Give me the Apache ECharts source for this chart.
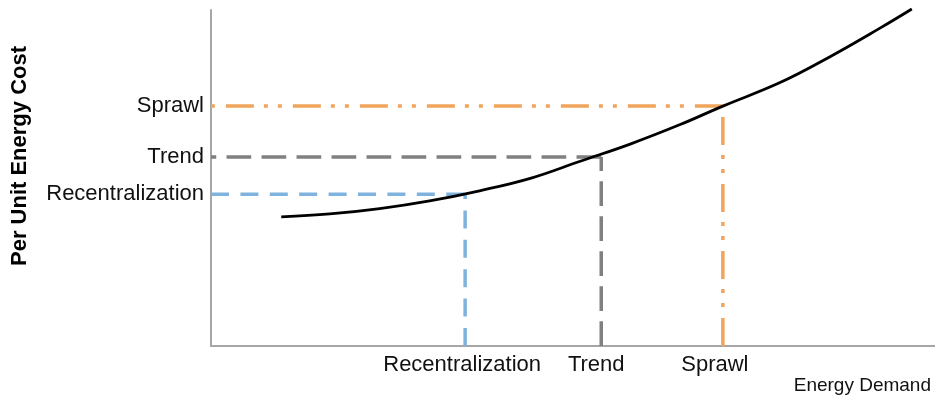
<!DOCTYPE html>
<html>
<head>
<meta charset="utf-8">
<script src="https://cdn.jsdelivr.net/npm/echarts@6/dist/echarts.min.js"></script>
<style>html,body{margin:0;padding:0;background:#fff}#c{width:935px;height:400px}</style>
</head>
<body>
<div id="c"></div>
<script>
const scenarios = ['Recentralization', 'Trend', 'Sprawl'];
const demand = [35.1, 53.9, 70.7];
const cost = [45.2, 56.25, 71.4];
const curveX = [9.7, 16.4, 23.3, 30.2, 37.1, 44.1, 51.0, 57.9, 64.8, 70.7, 78.6, 85.5, 92.4, 96.8];
const curveY = [38.4, 39.3, 40.9, 43.2, 46.2, 49.9, 55.0, 60.1, 65.9, 71.4, 78.4, 86.1, 94.6, 100.3];
const colors = ['#7fb2dc', '#808080', '#f0a45c'];
const dashes = [[18, 11.4], [24.7, 10.3], [28, 11, 4, 10, 4, 10]];

const FONT = '"Liberation Sans", Arial, sans-serif';
const chart = echarts.init(document.getElementById('c'), null, {renderer: 'canvas'});

const series = [];
scenarios.forEach((name, i) => {
  const ls = {color: colors[i], width: 3.5, type: dashes[i]};
  const h = i === 0 ? [[0, cost[i]], [demand[i], cost[i]]] : [[demand[i], cost[i]], [0, cost[i]]];
  series.push({
    type: 'line', name: name + ' h', data: h,
    showSymbol: false, symbol: 'none', lineStyle: ls, z: 2, silent: true
  });
  series.push({
    type: 'line', name: name + ' v', data: [[demand[i], 0], [demand[i], cost[i]]],
    showSymbol: false, symbol: 'none', lineStyle: ls, z: 2, silent: true
  });
});
series.push({
  type: 'line', name: 'curve', data: curveX.map((x, i) => [x, curveY[i]]),
  smooth: 0.4, showSymbol: false, symbol: 'none', clip: false,
  lineStyle: {color: '#000', width: 2.8}, z: 5, silent: true
});

const shift = [6, 10, 16];
chart.setOption({
  animation: false,
  grid: {left: 211, right: 0, top: 10, bottom: 54, containLabel: false},
  xAxis: {
    type: 'value', min: 0, max: 100,
    splitLine: {show: false},
    axisTick: {show: false},
    axisLine: {lineStyle: {color: '#a6a6a6', width: 2}},
    axisLabel: {
      customValues: demand,
      formatter: v => { const k = demand.indexOf(v); return k < 0 ? '' : '{r' + k + '|' + scenarios[k] + '}'; },
      rich: {
        r0: {padding: [0, shift[0], 0, 0], fontSize: 22, fontFamily: FONT, color: '#111'},
        r1: {padding: [0, shift[1], 0, 0], fontSize: 22, fontFamily: FONT, color: '#111'},
        r2: {padding: [0, shift[2], 0, 0], fontSize: 22, fontFamily: FONT, color: '#111'}
      },
      fontSize: 22, color: '#111', fontFamily: FONT, margin: 8
    }
  },
  yAxis: {
    type: 'value', min: 0, max: 100,
    splitLine: {show: false},
    axisTick: {show: false},
    axisLine: {show: true, lineStyle: {color: '#a6a6a6', width: 2}},
    axisLabel: {
      customValues: cost,
      formatter: v => scenarios[cost.indexOf(v)] || '',
      fontSize: 22, color: '#111', fontFamily: FONT, margin: 7
    }
  },
  graphic: [
    {
      type: 'text', x: 20, y: 156, rotation: Math.PI / 2,
      style: {text: 'Per Unit Energy Cost', font: 'bold 22px ' + FONT, fill: '#000',
              align: 'center', verticalAlign: 'middle'}
    },
    {
      type: 'text', x: 931, y: 386,
      style: {text: 'Energy Demand', font: '19px ' + FONT, fill: '#111',
              align: 'right', verticalAlign: 'middle'}
    }
  ],
  series: series
});
</script>
</body>
</html>
